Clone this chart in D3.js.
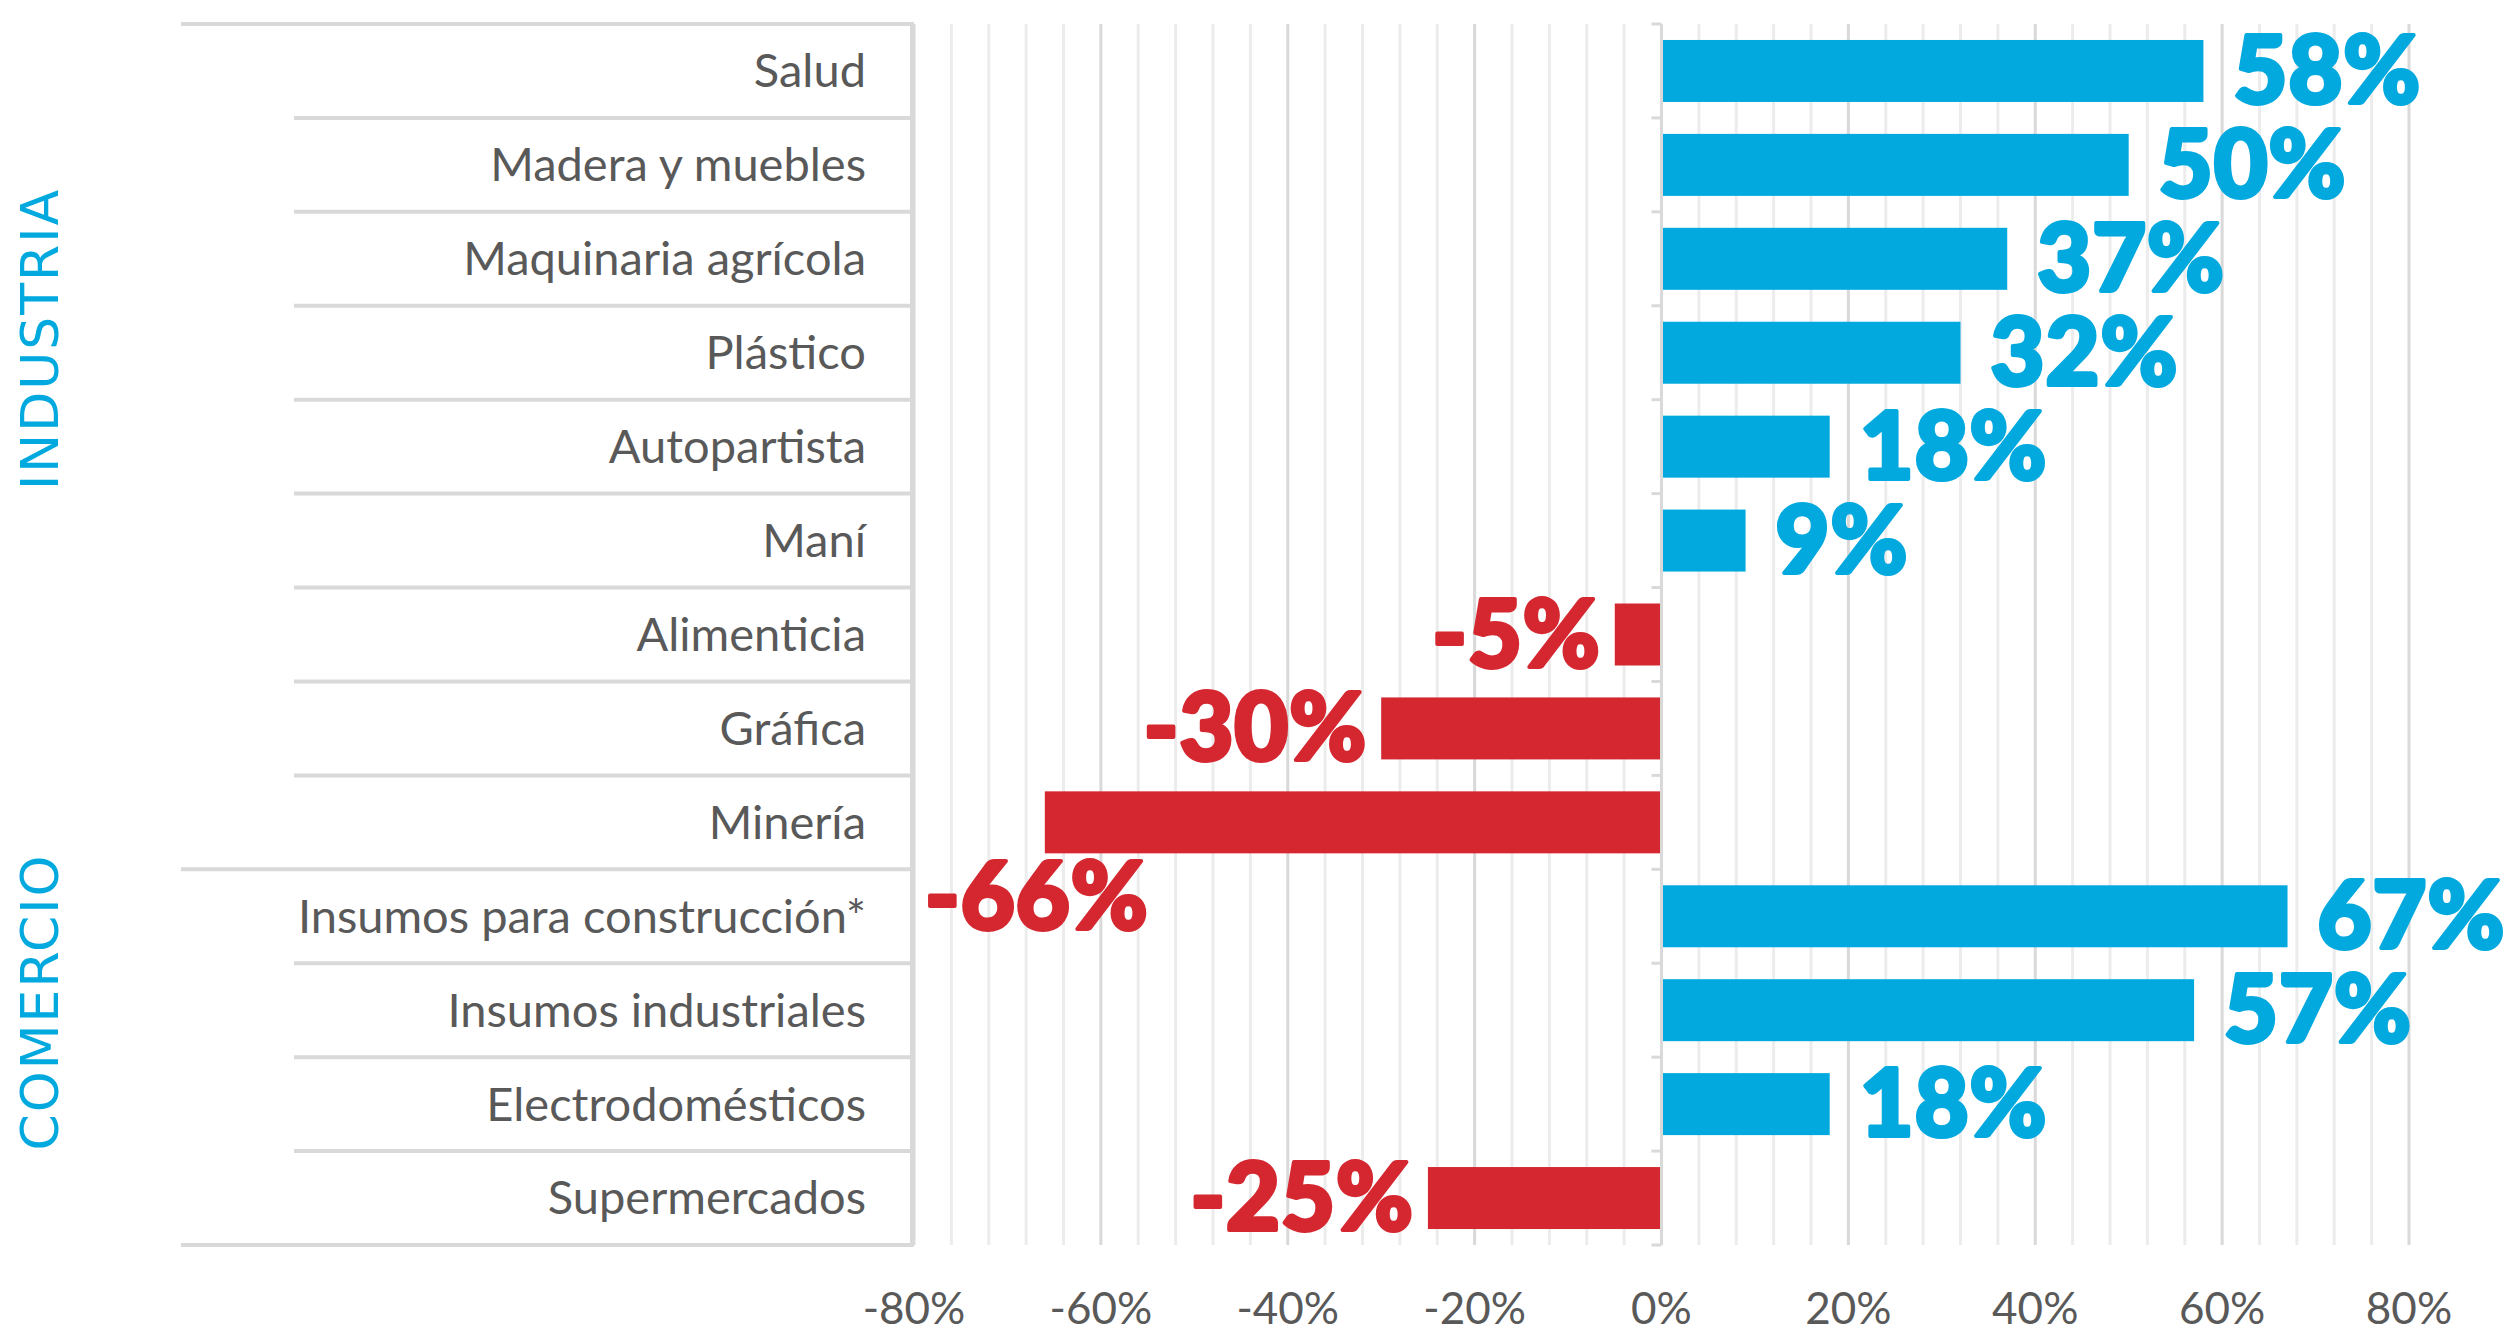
<!DOCTYPE html>
<html>
<head>
<meta charset="utf-8">
<script src="https://cdn.jsdelivr.net/npm/d3@7"></script>
<style>
  html, body { margin: 0; padding: 0; background: #fff; }
  svg { display: block; }
</style>
</head>
<body>
<svg id="chart" width="2518" height="1332"></svg>
<script>
const categories = [
  "Salud", "Madera y muebles", "Maquinaria agrícola", "Plástico", "Autopartista",
  "Maní", "Alimenticia", "Gráfica", "Minería",
  "Insumos para construcción*", "Insumos industriales", "Electrodomésticos", "Supermercados"
];
const values = [58, 50, 37, 32, 18, 9, -5, -30, -66, 67, 57, 18, -25];
const groups = ["INDUSTRIA", "COMERCIO"];
const groupSizes = [9, 4];
const tickValues = [-80, -60, -40, -20, 0, 20, 40, 60, 80];

const BLUE = "#02a9df", RED = "#d52730", GRID = "#d9d9d9", GRID_MINOR = "#ececec", TEXT = "#595959";

const svg = d3.select("#chart");

const x = d3.scaleLinear().domain([-80, 80]).range([914, 2409]);
const y = d3.scaleBand().domain(categories).range([24, 1245])
  .paddingInner(0.34).paddingOuter(0.17);
const step = y.step();
const yTop = 24, yBottom = 1245;

// gridlines every 4%
svg.append("g").selectAll("line")
  .data(d3.range(-80, 81, 4))
  .join("line")
  .attr("x1", d => x(d)).attr("x2", d => x(d))
  .attr("y1", yTop).attr("y2", yBottom)
  .attr("stroke", d => d % 20 === 0 ? GRID : GRID_MINOR)
  .attr("stroke-width", 3);

// label column: row separators (group edges run wider)
const boundaries = d3.range(categories.length + 1);
const groupEdges = [0, ...d3.cumsum(groupSizes)];
svg.append("g").selectAll("line")
  .data(boundaries)
  .join("line")
  .attr("x1", i => groupEdges.includes(i) ? 181 : 294)
  .attr("x2", 912)
  .attr("y1", i => yTop + i * step).attr("y2", i => yTop + i * step)
  .attr("stroke", GRID).attr("stroke-width", 4);
svg.append("line")
  .attr("x1", 912).attr("x2", 912).attr("y1", yTop - 2).attr("y2", yBottom + 2)
  .attr("stroke", GRID).attr("stroke-width", 4);

// bars
svg.append("g").selectAll("rect")
  .data(values)
  .join("rect")
  .attr("x", d => x(Math.min(0, d)))
  .attr("width", d => Math.abs(x(d) - x(0)))
  .attr("y", (d, i) => y(categories[i]))
  .attr("height", y.bandwidth())
  .attr("fill", d => d < 0 ? RED : BLUE);

// zero axis with ticks at row boundaries
const zero = svg.append("g");
zero.append("line")
  .attr("x1", x(0)).attr("x2", x(0)).attr("y1", yTop).attr("y2", yBottom)
  .attr("stroke", GRID).attr("stroke-width", 3);
zero.selectAll("line.tick")
  .data(boundaries)
  .join("line").attr("class", "tick")
  .attr("x1", x(0) - 10).attr("x2", x(0))
  .attr("y1", i => yTop + i * step).attr("y2", i => yTop + i * step)
  .attr("stroke", GRID).attr("stroke-width", 3);

// category labels
svg.append("g").selectAll("text")
  .data(categories)
  .join("text")
  .attr("x", 866)
  .attr("y", d => y(d) + y.bandwidth() / 2)
  .attr("dy", "0.35em")
  .attr("text-anchor", "end")
  .attr("font-family", "Lato, 'Open Sans', sans-serif")
  .attr("font-size", 47)
  .attr("fill", TEXT)
  .text(d => d);

// x axis tick labels
svg.append("g").selectAll("text")
  .data(tickValues)
  .join("text")
  .attr("x", d => x(d))
  .attr("y", 1309)
  .attr("dy", "0.35em")
  .attr("text-anchor", "middle")
  .attr("font-family", "Lato, 'Open Sans', sans-serif")
  .attr("font-size", 44)
  .attr("fill", TEXT)
  .text(d => d + "%");

// value labels; the one that would run off the left goes under its bar
const fmt = d => d + "%";
svg.append("g").selectAll("text")
  .data(values)
  .join("text")
  .each(function (d, i) {
    const t = d3.select(this);
    const yc = y(categories[i]) + y.bandwidth() / 2;
    const below = d < 0 && x(d) - 240 < x.range()[0];
    if (below) {
      t.attr("x", x(d) - 8).attr("y", y(categories[i]) + y.bandwidth() + 76)
        .attr("text-anchor", "middle");
    } else if (d < 0) {
      t.attr("x", x(d) - 14).attr("y", yc + 32).attr("text-anchor", "end");
    } else {
      t.attr("x", x(d) + 30).attr("y", yc + 32).attr("text-anchor", "start");
    }
  })
  .attr("font-family", "Lato, Roboto, sans-serif")
  .attr("font-weight", 900)
  .attr("font-size", 93)
  .attr("letter-spacing", 1)
  .attr("fill", d => d < 0 ? RED : BLUE)
  .attr("stroke", d => d < 0 ? RED : BLUE)
  .attr("stroke-width", 4)
  .attr("stroke-linejoin", "round")
  .text(fmt);

// group labels
const groupCenters = [339, 1002];
svg.append("g").selectAll("text")
  .data(groups)
  .join("text")
  .attr("transform", (d, i) => `translate(58,${groupCenters[i]}) rotate(-90)`)
  .attr("text-anchor", "middle")
  .attr("font-family", "'DejaVu Sans', sans-serif")
  .attr("font-size", 52)
  .attr("letter-spacing", 2)
  .attr("fill", BLUE)
  .text(d => d);
</script>
</body>
</html>
